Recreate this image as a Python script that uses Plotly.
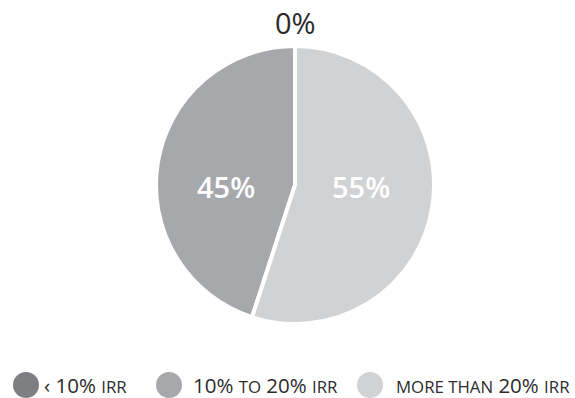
import plotly.graph_objects as go

# IRR buckets and share of deals in each
categories = ["< 10% IRR", "10% to 20% IRR", "more than 20% IRR"]
shares = [0, 45, 55]
colors = ["#7e7f83", "#a7a8ab", "#d1d2d4"]

# legend captions, with small-caps style parts
small = "<span style='font-size:16.8px'>{}</span>"
legend_text = [
    "‹ 10% " + small.format("IRR"),
    "10% " + small.format("TO") + " 20% " + small.format("IRR"),
    small.format("MORE THAN") + " 20% " + small.format("IRR"),
]

W, H = 575, 398
FONT = "'Open Sans', sans-serif"

cx, cy, r = 295, 185, 139

fig = go.Figure()
fig.add_trace(go.Pie(
    labels=categories,
    values=shares,
    sort=False,
    direction="counterclockwise",
    rotation=0,
    marker=dict(colors=colors, line=dict(color="white", width=4)),
    textinfo="none",
    showlegend=False,
    hoverinfo="label+percent",
    domain=dict(x=[(cx - r) / W, (cx + r) / W], y=[1 - (cy + r) / H, 1 - (cy - r) / H]),
))

# slice value labels: the empty slice above the pie, the others inside
label_pos = [(295, 23), (226, 186), (361, 186)]
for v, (lx, ly_) in zip(shares, label_pos):
    inside = v > 0
    fig.add_annotation(
        x=lx / W, y=1 - ly_ / H, xref="paper", yref="paper",
        text=f"{v}%", showarrow=False, xanchor="center", yanchor="middle",
        font=dict(family=FONT, size=29,
                  color="white" if inside else "#2b2b2b",
                  weight=600 if inside else 400),
    )

# legend row: circle swatch + caption
swatch_x = [26, 169, 370]
text_x = [42, 191, 394]
ly = 385
sr = 13
for sx, tx, col, txt in zip(swatch_x, text_x, colors, legend_text):
    fig.add_shape(type="circle", xref="paper", yref="paper",
                  x0=(sx - sr) / W, x1=(sx + sr) / W,
                  y0=1 - (ly + sr) / H, y1=1 - (ly - sr) / H,
                  fillcolor=col, line=dict(width=0))
    fig.add_annotation(x=tx / W, y=1 - ly / H, xref="paper", yref="paper",
                       text=txt, showarrow=False, xanchor="left", yanchor="middle",
                       font=dict(family=FONT, size=20.5, color="#2b2b2b"))

fig.update_layout(
    width=W, height=H,
    margin=dict(l=0, r=0, t=0, b=0),
    paper_bgcolor="white",
    plot_bgcolor="white",
)

fig.write_html("out.html")
